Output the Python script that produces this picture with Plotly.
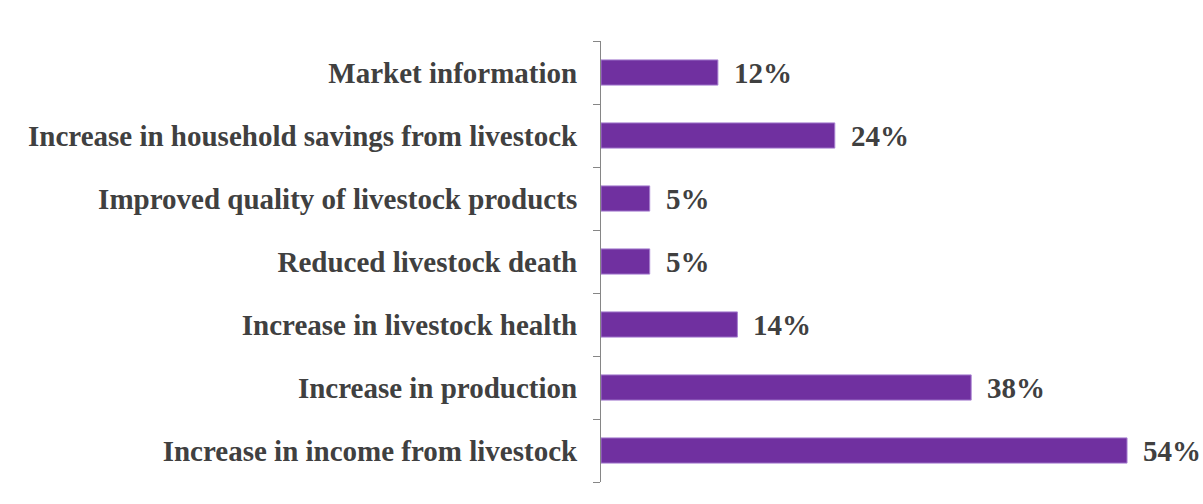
import plotly.graph_objects as go

# Survey responses: perceived benefits, listed bottom to top
categories = [
    "Increase in income from livestock",
    "Increase in production",
    "Increase in livestock health",
    "Reduced livestock death",
    "Improved quality of livestock products",
    "Increase in household savings from livestock",
    "Market information",
]
shares = [54, 38, 14, 5, 5, 24, 12]

FONT = "Liberation Serif"
TEXT_COLOR = "#404040"
FONT_SIZE = 29

fig = go.Figure(
    go.Bar(
        x=shares,
        y=categories,
        orientation="h",
        marker=dict(color="#7030A0", line=dict(color="#A77FD0", width=1)),
        hoverinfo="skip",
    )
)

# value labels to the right of each bar
for cat, val in zip(categories, shares):
    fig.add_annotation(
        x=val, y=cat, text=f"<b>{val}%</b>", showarrow=False,
        xanchor="left", yanchor="middle", xshift=14,
        font=dict(family=FONT, size=FONT_SIZE, color=TEXT_COLOR),
    )

fig.update_layout(
    width=1203, height=504,
    margin=dict(l=601, r=0, t=41, b=22),
    paper_bgcolor="white", plot_bgcolor="white",
    bargap=0.6, showlegend=False,
    xaxis=dict(range=[0, 61.8], visible=False, fixedrange=True),
    yaxis=dict(
        showline=True, linecolor="#868686", linewidth=1,
        ticks="outside", tickson="boundaries", ticklen=7, tickcolor="#868686",
        ticklabelstandoff=17,
        tickfont=dict(family=FONT, size=FONT_SIZE, color=TEXT_COLOR),
        tickprefix="<b>", ticksuffix="</b>",
        showgrid=False, zeroline=False, automargin=False,
    ),
)

fig.write_html("out.html")
